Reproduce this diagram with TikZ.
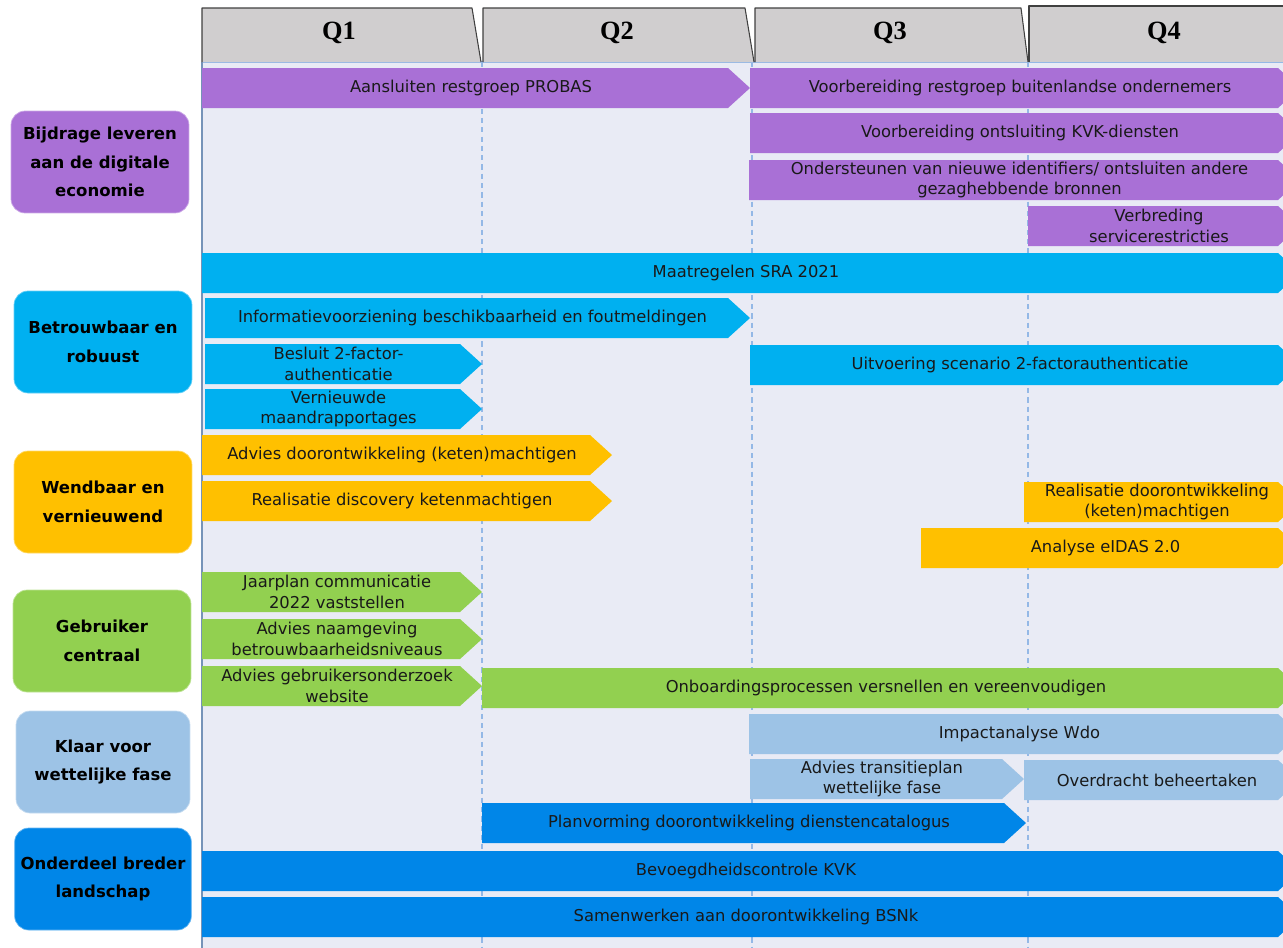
\documentclass[tikz,border=0pt]{standalone}
\usepackage{fontspec}
\setmainfont{DejaVu Sans}
\newfontfamily\headfont{Liberation Serif}
\usepackage{xcolor}
\usepackage{tikz}
\usetikzlibrary{positioning,calc}

\definecolor{purp}{HTML}{A970D6}
\definecolor{cyanb}{HTML}{00B0F0}
\definecolor{orng}{HTML}{FFC000}
\definecolor{grn}{HTML}{92D050}
\definecolor{ltblue}{HTML}{9DC3E6}
\definecolor{dkblue}{HTML}{0086E8}
\definecolor{chartbg}{HTML}{E9EBF5}
\definecolor{tabgray}{HTML}{D0CECF}
\definecolor{gridblue}{HTML}{94B8E6}

% bar with arrow point: name, colour, x from, x to, top, text
\newcommand{\ganttbar}[6]{%
  \fill[#2] (#3,#5) -- ({#4-22},#5) -- (#4,{#5+20}) -- ({#4-22},{#5+40}) -- (#3,{#5+40}) -- cycle;
  \node[task] (#1) at ({(#3+#4)/2-5},{#5+20}) {#6};
}

\begin{document}
\begin{tikzpicture}[
      x=0.02cm, y=-0.02cm,
      tab/.style={draw=black!75, fill=tabgray, line width=0.6pt, line join=round},
      tablabel/.style={font=\headfont\bfseries\fontsize{15}{17}\selectfont},
      task/.style={
        font=\fontsize{9.3}{11.8}\selectfont,
        align=center,
        text=black!90,
        inner sep=0pt
      },
      theme/.style={
        rectangle,
        rounded corners=8pt,
        minimum width=3.56cm,
        minimum height=2.04cm,
        align=center,
        font=\bfseries\fontsize{9.4}{16.4}\selectfont,
        text=black
      },
      divider/.style={gridblue, line width=0.7pt, dash pattern=on 3pt off 2.3pt}
    ]
    \useasboundingbox (0,0) rectangle (1283,947);
    \clip (0,0) rectangle (1283,947);

    % Chart area and quarter dividers
    \fill[chartbg] (202,62) rectangle (1290,950);
    \draw[gridblue, line width=0.6pt] (202,62) -- (1290,62);
    \foreach \qx in {482,752,1028}
      \draw[divider] (\qx,62) -- (\qx,947);
    \draw[gridblue!80!black, line width=0.9pt] (202,62) -- (202,950);

    % Header tabs
    \draw[tab] (202,62) -- (202,8) -- (472,8) -- (481,62);
    \draw[tab] (483,62) -- (483,8) -- (745,8) -- (754,62);
    \draw[tab] (755,62) -- (755,8) -- (1021,8) -- (1028,62);
    \draw[tab] (1029,62) -- (1029,6) -- (1295,6) -- (1295,62);
    \node[tablabel] (q1) at (339,33) {Q1};
    \node[tablabel] (q2) at (617,33) {Q2};
    \node[tablabel] (q3) at (890,33) {Q3};
    \node[tablabel] (q4) at (1164,33) {Q4};

    % Theme labels
    \node[theme, fill=purp, draw=purp!60!white] (economie) at (100,162) {Bijdrage leveren\\aan de digitale\\economie};
    \node[theme, fill=cyanb, draw=cyanb!60!white] (robuust) at (103,342) {Betrouwbaar en\\robuust};
    \node[theme, fill=orng, draw=orng!60!white] (wendbaar) at (103,502) {Wendbaar en\\vernieuwend};
    \node[theme, fill=grn, draw=grn!60!white] (gebruiker) at (102,641) {Gebruiker\\centraal};
    \node[theme, fill=ltblue, draw=ltblue!60!white, minimum width=3.48cm] (wettelijk) at (103,762) {Klaar voor\\wettelijke fase};
    \node[theme, fill=dkblue, draw=dkblue!60!white, minimum width=3.48cm] (landschap) at (103,879) {Onderdeel breder\\landschap};

    % Digitale economie
    \ganttbar{probas}{purp}{202}{750}{68}{Aansluiten restgroep PROBAS}
    \ganttbar{buitenl}{purp}{750}{1300}{68}{Voorbereiding restgroep buitenlandse ondernemers}
    \ganttbar{kvkdienst}{purp}{750}{1300}{113}{Voorbereiding ontsluiting KVK-diensten}
    \ganttbar{identif}{purp}{749}{1300}{160}{Ondersteunen van nieuwe identifiers/ ontsluiten andere\\gezaghebbende bronnen}
    \ganttbar{verbreding}{purp}{1028}{1300}{206}{Verbreding\\servicerestricties}

    % Betrouwbaar en robuust
    \ganttbar{sra}{cyanb}{202}{1300}{253}{Maatregelen SRA 2021}
    \ganttbar{infovz}{cyanb}{205}{750}{298}{Informatievoorziening beschikbaarheid en foutmeldingen}
    \ganttbar{besluit}{cyanb}{205}{482}{344}{Besluit 2-factor-\\authenticatie}
    \ganttbar{uitvoering}{cyanb}{750}{1300}{345}{Uitvoering scenario 2-factorauthenticatie}
    \ganttbar{rapport}{cyanb}{205}{482}{389}{Vernieuwde\\maandrapportages}

    % Wendbaar en vernieuwend
    \ganttbar{adviesketen}{orng}{202}{612}{435}{Advies doorontwikkeling (keten)machtigen}
    \ganttbar{discovery}{orng}{202}{612}{481}{Realisatie discovery ketenmachtigen}
    \ganttbar{realketen}{orng}{1024}{1300}{482}{Realisatie doorontwikkeling\\(keten)machtigen}
    \ganttbar{eidas}{orng}{921}{1300}{528}{Analyse eIDAS 2.0}

    % Gebruiker centraal
    \ganttbar{jaarplan}{grn}{202}{482}{572}{Jaarplan communicatie\\2022 vaststellen}
    \ganttbar{naamgeving}{grn}{202}{482}{619}{Advies naamgeving\\betrouwbaarheidsniveaus}
    \ganttbar{onderzoek}{grn}{202}{482}{666}{Advies gebruikersonderzoek\\website}
    \ganttbar{onboarding}{grn}{482}{1300}{668}{Onboardingsprocessen versnellen en vereenvoudigen}

    % Wettelijke fase
    \ganttbar{impact}{ltblue}{749}{1300}{714}{Impactanalyse Wdo}
    \ganttbar{transitie}{ltblue}{750}{1024}{759}{Advies transitieplan\\wettelijke fase}
    \ganttbar{overdracht}{ltblue}{1024}{1300}{760}{Overdracht beheertaken}

    % Breder landschap
    \ganttbar{planvorming}{dkblue}{482}{1026}{803}{Planvorming doorontwikkeling dienstencatalogus}
    \ganttbar{bevoegd}{dkblue}{202}{1300}{851}{Bevoegdheidscontrole KVK}
    \ganttbar{bsnk}{dkblue}{202}{1300}{897}{Samenwerken aan doorontwikkeling BSNk}
  \end{tikzpicture}
\end{document}
